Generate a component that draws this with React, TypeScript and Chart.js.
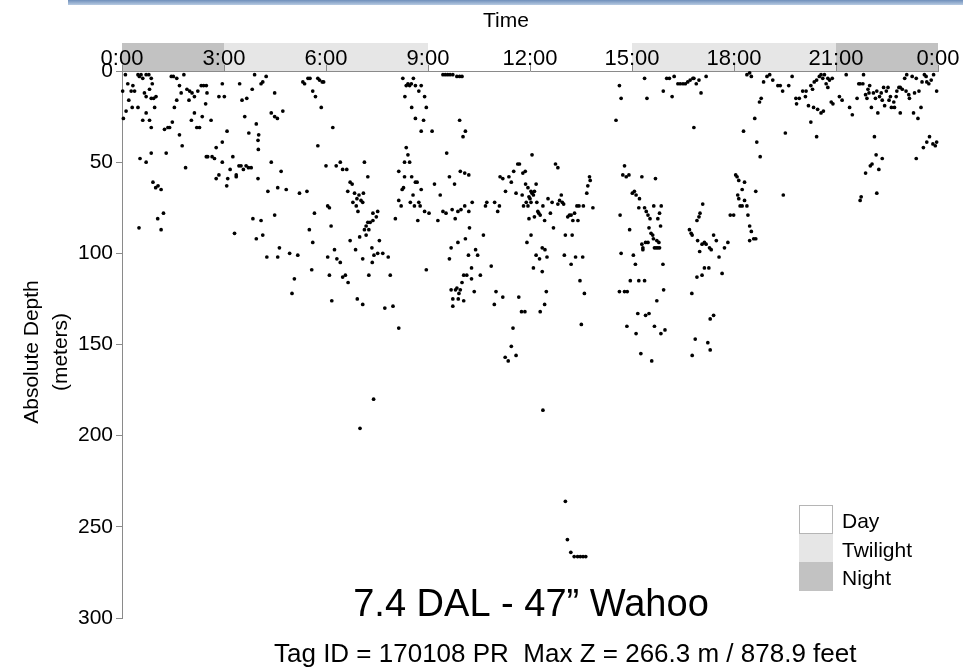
import React, { useEffect, useRef } from 'react';
import { Chart, registerables } from 'chart.js';

Chart.register(...registerables);

const FONT = "'Liberation Sans', Arial, sans-serif";

// ---- axis / text content ----
const hourTicks = [0, 3, 6, 9, 12, 15, 18, 21, 24];
const depthTicks = [0, 50, 100, 150, 200, 250, 300];
const xTitle = 'Time';
const yTitle = ['Absolute Depth', '(meters)'];
const titleText = '7.4 DAL - 47\u201D Wahoo';
const subtitleText = 'Tag ID = 170108 PR  Max Z = 266.3 m / 878.9 feet';

// ---- light periods (hours) ----
const periodStarts = [0, 3, 9, 15, 21];
const periodEnds = [3, 9, 15, 21, 24];
const periodKinds = ['Night', 'Twilight', 'Day', 'Twilight', 'Night'];
const legendLabels = ['Day', 'Twilight', 'Night'];
const legendColors = ['#ffffff', '#e6e6e6', '#c2c2c2'];

// ---- detections: [hour of day, depth m] ----
const det00to03 = [
  [0.10, 2], [0.47, 2], [0.51, 3], [0.56, 2], [0.61, 4], [0.71, 2], [0.79, 2], [0.86, 4], [1.45, 3], [1.51, 3], [1.61, 4], [1.82, 2],
  [0.02, 11], [0.17, 7], [0.32, 8], [0.27, 11], [0.37, 11], [0.66, 12], [0.71, 14], [0.86, 15], [0.93, 15], [1.00, 14], [0.81, 10], [0.89, 7],
  [0.20, 16], [0.30, 20], [0.47, 20], [0.12, 22], [0.71, 23], [0.04, 26], [0.61, 27], [0.81, 27], [0.96, 20], [0.86, 31], [1.25, 32], [1.35, 31],
  [1.40, 31], [1.48, 28], [1.69, 35], [1.77, 41], [1.54, 20], [1.61, 16], [1.69, 8], [1.74, 12], [1.91, 10], [1.99, 11], [2.06, 12], [1.97, 16],
  [2.13, 14], [2.23, 11], [2.33, 8], [2.40, 8], [2.48, 8], [2.46, 18], [2.50, 12], [2.04, 27], [2.13, 23], [2.20, 31], [2.28, 31], [2.36, 25],
  [2.62, 27], [2.85, 14], [2.95, 7], [2.95, 39], [2.77, 42], [1.87, 53], [2.65, 47], [2.72, 48], [2.52, 47], [2.48, 47], [2.77, 59], [2.85, 57],
  [2.95, 50], [0.50, 86], [1.15, 87], [1.05, 81], [1.22, 78], [0.99, 64], [1.06, 63], [1.15, 65], [0.91, 61], [0.86, 45], [0.53, 48], [0.71, 50], [1.30, 45],
];
const det03to06 = [
  [3.01, 14], [3.46, 7], [3.53, 16], [3.67, 15], [3.61, 25], [3.83, 10], [3.95, 29], [4.02, 35], [3.73, 34], [4.49, 12], [4.39, 23], [4.49, 25],
  [4.57, 26], [4.73, 22], [3.09, 33], [3.08, 63], [3.11, 59], [3.18, 54], [3.26, 47], [3.36, 57], [3.36, 58], [3.44, 52], [3.50, 52], [3.57, 54],
  [3.65, 52], [3.72, 53], [3.80, 53], [4.00, 59], [4.01, 43], [4.00, 38], [4.39, 50], [4.68, 55], [4.83, 65], [5.22, 67], [5.44, 66], [5.86, 20],
  [5.76, 41], [5.66, 78], [5.61, 94], [5.51, 87], [4.09, 82], [3.85, 81], [4.49, 79], [4.14, 90], [3.95, 92], [4.29, 66], [4.58, 64], [4.63, 97],
  [3.31, 89], [3.90, 2], [4.14, 6], [4.24, 3], [4.09, 7], [5.32, 6], [5.37, 7], [5.47, 4], [5.53, 4], [5.61, 11], [5.69, 14], [5.76, 4], [5.81, 5],
  [5.89, 6], [5.93, 6], [4.26, 102], [4.58, 102], [4.93, 100], [5.17, 101], [5.07, 114], [5.00, 122], [5.58, 109],
];
const det06to09 = [
  [6.20, 31], [6.00, 52], [6.30, 52], [6.42, 50], [6.49, 54], [6.61, 54], [7.13, 50], [7.23, 58], [6.71, 61], [6.77, 62], [6.64, 66], [6.84, 67],
  [6.91, 70], [6.97, 68], [7.03, 71], [7.10, 67], [7.08, 72], [6.89, 74], [6.79, 72], [6.94, 77], [6.05, 74], [6.10, 75], [8.04, 81], [8.14, 71],
  [8.14, 55], [7.38, 78], [7.52, 77], [7.48, 80], [7.38, 82], [7.23, 83], [7.30, 83], [7.18, 85], [7.13, 87], [7.26, 87], [7.18, 90], [6.99, 91],
  [6.71, 93], [7.57, 93], [7.35, 97], [6.15, 85], [6.05, 102], [6.25, 98], [6.32, 103], [6.42, 105], [6.10, 112], [6.17, 126], [6.49, 113],
  [6.57, 112], [6.65, 116], [6.87, 98], [7.08, 103], [7.26, 112], [7.36, 105], [7.41, 101], [7.52, 100], [7.67, 100], [7.83, 102], [7.89, 112],
  [6.92, 125], [7.08, 128], [7.73, 130], [7.97, 129], [8.14, 141], [8.95, 109], [7.40, 180], [7.00, 196],
  [8.26, 4], [8.36, 8], [8.41, 7], [8.46, 8], [8.51, 7], [8.57, 4], [8.63, 8], [8.73, 11], [8.80, 8], [8.90, 14], [8.32, 14], [8.52, 20],
  [8.95, 20], [8.63, 26], [8.87, 27], [8.80, 33], [8.36, 42], [8.41, 46], [8.31, 50], [8.46, 50], [8.31, 58], [8.52, 58], [8.63, 61], [8.68, 61],
  [8.80, 65], [8.24, 65], [8.28, 64], [8.56, 68], [8.21, 74], [8.48, 72], [8.60, 74], [8.73, 72], [8.77, 74], [8.90, 77], [8.70, 82],
];
const det09to12 = [
  [9.12, 33], [9.93, 27], [10.10, 33], [10.03, 36], [9.44, 2], [9.51, 2], [9.58, 2], [9.65, 2], [9.73, 2], [9.85, 3], [9.93, 3], [10.00, 3],
  [9.03, 78], [9.19, 62], [9.36, 68], [9.55, 45], [9.63, 58], [9.78, 62], [9.95, 55], [10.08, 56], [10.20, 57], [9.44, 77], [9.53, 78], [9.71, 76],
  [9.88, 77], [9.97, 76], [10.08, 74], [10.20, 77], [9.80, 81], [9.29, 82], [10.30, 72], [10.73, 72], [10.96, 72], [10.69, 74], [11.10, 74],
  [11.05, 77], [10.22, 86], [10.10, 92], [10.63, 90], [9.88, 94], [9.68, 97], [11.12, 58], [11.20, 59], [11.38, 58], [11.28, 66], [11.45, 61],
  [11.52, 55], [11.64, 51], [11.69, 51], [11.79, 56], [11.86, 55], [11.59, 67], [11.77, 68], [11.87, 62], [11.94, 64], [11.97, 69], [11.89, 72],
  [11.81, 74], [11.94, 74], [11.97, 81], [11.91, 94], [9.63, 103], [9.68, 120], [9.73, 125], [9.73, 129], [9.81, 120], [9.85, 119], [9.91, 122],
  [9.89, 125], [9.95, 120], [10.00, 116], [10.05, 112], [10.05, 126], [10.14, 112], [10.19, 101], [10.28, 108], [10.28, 114], [10.36, 121],
  [10.40, 98], [10.46, 101], [10.54, 112], [10.86, 107], [10.95, 128], [11.00, 121], [11.20, 124], [11.50, 141], [11.45, 151], [11.27, 157],
  [11.36, 159], [11.59, 156], [11.67, 124], [11.75, 132], [11.85, 132],
];
const det12to15 = [
  [12.03, 66], [12.06, 67], [12.10, 68], [12.13, 66], [12.18, 62], [12.03, 72], [12.00, 70], [12.20, 72], [12.23, 77], [12.26, 78], [12.30, 79],
  [12.38, 74], [12.43, 82], [12.13, 80], [12.06, 46], [12.60, 78], [12.53, 70], [12.69, 86], [12.65, 72], [12.75, 51], [12.82, 53], [12.92, 68],
  [12.87, 71], [12.95, 72], [12.82, 73], [12.99, 73], [13.11, 80], [13.16, 79], [13.21, 79], [13.31, 78], [13.26, 82], [13.44, 74], [13.38, 74],
  [13.41, 82], [13.57, 74], [13.67, 67], [13.70, 63], [13.75, 58], [13.77, 60], [13.85, 75], [13.04, 90], [13.24, 90], [12.03, 90], [12.36, 97],
  [14.63, 8], [14.68, 15], [14.53, 27], [12.10, 108], [12.18, 101], [12.28, 103], [12.36, 110], [12.30, 132], [12.43, 128], [12.48, 121],
  [12.50, 102], [12.44, 98], [12.38, 186], [13.01, 101], [13.21, 106], [13.34, 102], [13.55, 102], [13.47, 115], [13.60, 122], [13.51, 139],
  [14.68, 100], [14.95, 115], [14.63, 121], [14.78, 121], [14.86, 121], [14.85, 140], [14.78, 52], [14.73, 57], [14.83, 58], [14.91, 57],
  [14.65, 79], [14.93, 87], [13.04, 236], [13.10, 257], [13.20, 264], [13.30, 266.3], [13.40, 266.3], [13.48, 266.3], [13.56, 266.3], [13.64, 266.3],
];
const det15to18 = [
  [15.37, 4], [15.44, 15], [15.92, 11], [16.02, 4], [16.10, 4], [16.18, 14], [16.24, 3], [16.35, 7], [15.29, 58], [15.69, 59], [15.01, 67],
  [15.07, 66], [15.12, 68], [15.22, 70], [15.20, 75], [15.37, 75], [15.42, 77], [15.47, 79], [15.53, 81], [15.64, 74], [15.81, 78], [15.84, 85],
  [15.50, 86], [15.56, 89], [15.61, 90], [15.63, 92], [15.73, 93], [15.79, 94], [15.76, 97], [15.66, 97], [15.71, 97], [15.81, 97], [15.47, 94],
  [15.40, 94], [15.29, 95], [15.32, 97], [15.76, 81], [15.86, 74], [15.04, 101], [15.32, 98], [15.10, 106], [15.91, 106], [15.20, 115],
  [15.37, 115], [15.93, 120], [15.73, 126], [15.17, 133], [15.40, 134], [15.50, 133], [15.66, 140], [15.12, 144], [15.85, 144], [15.97, 142],
  [15.26, 155], [15.58, 159], [17.13, 108], [17.26, 108], [17.06, 112], [16.91, 113], [17.65, 111], [16.76, 122], [17.30, 136], [17.40, 134],
  [16.86, 147], [17.23, 149], [17.30, 153], [16.77, 156], [16.42, 7], [16.50, 7], [16.57, 7], [16.64, 6], [16.71, 5], [16.79, 4], [16.82, 4],
  [16.89, 7], [16.97, 5], [17.03, 12], [17.18, 3], [16.82, 31], [17.08, 73], [17.00, 78], [16.91, 82], [16.97, 80], [16.69, 87], [16.74, 89],
  [16.77, 90], [16.93, 93], [17.06, 95], [17.13, 94], [17.18, 95], [17.28, 97], [17.33, 98], [17.40, 90], [17.48, 93], [17.72, 97], [17.82, 94],
  [16.99, 99], [17.56, 102], [17.89, 79], [17.99, 79],
];
const det18to21 = [
  [18.46, 1], [18.38, 2], [18.51, 3], [18.87, 6], [18.97, 3], [19.05, 2], [19.14, 5], [19.29, 8], [19.36, 8], [19.43, 11], [19.61, 8], [19.71, 3],
  [19.82, 15], [19.92, 15], [19.84, 18], [20.02, 11], [20.12, 11], [20.10, 14], [20.26, 8], [20.31, 10], [20.19, 19], [20.34, 20], [20.46, 21],
  [20.56, 23], [20.63, 22], [20.36, 6], [20.43, 5], [20.51, 3], [20.56, 2], [20.61, 4], [20.66, 2], [20.76, 4], [20.81, 5], [20.89, 4], [20.71, 7],
  [20.76, 9], [20.86, 17], [20.91, 18], [20.26, 28], [20.43, 36], [19.51, 34], [18.75, 17], [18.80, 15], [18.61, 26], [18.28, 33], [18.67, 39],
  [18.77, 47], [18.05, 57], [18.09, 58], [18.14, 60], [18.31, 61], [18.24, 65], [18.64, 66], [18.11, 68], [18.14, 70], [18.31, 71], [18.18, 74],
  [18.24, 74], [18.38, 74], [18.41, 79], [18.46, 85], [18.51, 88], [18.58, 92], [18.64, 92], [18.46, 93], [19.45, 68],
];
const det21to24 = [
  [21.10, 14], [21.18, 16], [21.30, 2], [21.40, 20], [21.48, 24], [21.62, 15], [21.67, 7], [21.71, 7], [21.79, 7], [21.81, 2], [21.87, 13],
  [21.91, 15], [21.94, 10], [21.99, 8], [21.97, 12], [22.04, 20], [22.10, 12], [22.16, 15], [22.20, 11], [22.23, 23], [22.28, 14], [22.33, 12],
  [22.36, 16], [22.40, 9], [22.43, 19], [22.48, 11], [22.53, 9], [22.56, 16], [22.60, 14], [22.63, 20], [22.70, 17], [22.72, 20], [22.77, 14],
  [22.79, 11], [22.85, 9], [22.89, 9], [22.89, 23], [22.95, 10], [23.02, 4], [23.06, 11], [23.08, 2], [23.14, 13], [23.16, 15], [23.24, 3],
  [23.28, 23], [23.31, 12], [23.36, 4], [23.41, 26], [23.44, 11], [23.50, 20], [23.53, 6], [23.60, 2], [23.65, 3], [23.67, 6], [23.73, 7],
  [23.80, 5], [23.87, 2], [23.96, 11], [22.13, 36], [22.18, 46], [22.36, 48], [22.06, 51], [22.01, 52], [22.26, 54], [21.87, 56], [21.74, 69],
  [21.71, 71], [22.20, 67], [23.36, 48], [23.57, 42], [23.67, 39], [23.75, 36], [23.85, 40], [23.92, 41], [23.96, 39],
];

const allDetections = [
  ...det00to03, ...det03to06, ...det06to09, ...det09to12,
  ...det12to15, ...det15to18, ...det18to21, ...det21to24,
];

const colorOf = (kind: string) => legendColors[legendLabels.indexOf(kind)];

const backgroundPlugin = {
  id: 'lightBands',
  beforeDraw(chart: any) {
    const { ctx, chartArea, scales } = chart;
    const x = scales.x;
    ctx.save();
    ctx.fillStyle = '#ffffff';
    ctx.fillRect(0, 0, chart.width, chart.height);
    // thin page strip at the very top of the picture
    const g = ctx.createLinearGradient(0, 0, 0, 5);
    g.addColorStop(0, '#6f8fbb');
    g.addColorStop(1, '#b8cbe2');
    ctx.fillStyle = g;
    ctx.fillRect(68, 0, chart.width - 68, 5);
    for (let i = 0; i < periodStarts.length; i++) {
      if (periodKinds[i] === 'Day') continue;
      const x0 = x.getPixelForValue(periodStarts[i]);
      const x1 = x.getPixelForValue(periodEnds[i]);
      ctx.fillStyle = colorOf(periodKinds[i]);
      ctx.fillRect(x0, chartArea.top - 28, x1 - x0, 28);
    }
    ctx.restore();
  },
};

const textPlugin = {
  id: 'texts',
  afterDraw(chart: any) {
    const { ctx } = chart;
    ctx.save();
    ctx.fillStyle = '#000';
    // x title
    ctx.font = `21px ${FONT}`;
    ctx.textAlign = 'center';
    ctx.textBaseline = 'alphabetic';
    ctx.fillText(xTitle, 506, 27);
    // y title
    ctx.save();
    ctx.translate(32, 352);
    ctx.rotate(-Math.PI / 2);
    ctx.textBaseline = 'middle';
    ctx.font = `21px ${FONT}`;
    ctx.fillText(yTitle[0], 0, 0);
    ctx.fillText(yTitle[1], 0, 29);
    ctx.restore();
    // titles
    ctx.textAlign = 'center';
    ctx.font = `38px ${FONT}`;
    ctx.fillText(titleText, 531, 616);
    ctx.textAlign = 'left';
    ctx.font = `26px ${FONT}`;
    ctx.fillText(subtitleText, 274, 662);
    // legend
    const bx = 799, bw = 34;
    const tops = [505, 534, 562];
    const hs = [29, 28, 29];
    ctx.font = `21px ${FONT}`;
    for (let i = 0; i < legendLabels.length; i++) {
      ctx.fillStyle = legendColors[i];
      ctx.fillRect(bx, tops[i], bw, hs[i]);
      if (legendLabels[i] === 'Day') {
        ctx.strokeStyle = '#b5b5b5';
        ctx.lineWidth = 1;
        ctx.strokeRect(bx + 0.5, tops[i] + 0.5, bw - 1, hs[i] - 1);
      }
      ctx.fillStyle = '#000';
      ctx.fillText(legendLabels[i], 842, tops[i] + 23);
    }
    ctx.restore();
  },
};

export default function App() {
  const ref = useRef<HTMLCanvasElement | null>(null);
  useEffect(() => {
    document.body.style.margin = '0';
    const canvas = ref.current;
    if (!canvas) return;
    Chart.defaults.font.family = FONT;
    const chart = new Chart(canvas, {
      type: 'scatter',
      data: {
        datasets: [
          {
            label: 'Depth',
            data: allDetections.map(([h, d]) => ({ x: h, y: d })),
            pointStyle: 'circle',
            pointRadius: 1.85,
            pointBackgroundColor: '#000',
            pointBorderWidth: 0,
            clip: false as any,
          },
        ],
      },
      options: {
        responsive: false,
        animation: false,
        events: [],
        layout: { padding: { left: 0, right: 25, top: 0, bottom: 50 } },
        plugins: { legend: { display: false }, tooltip: { enabled: false }, title: { display: false } },
        scales: {
          x: {
            type: 'linear',
            position: 'top',
            min: 0,
            max: 24,
            afterBuildTicks: (s: any) => { s.ticks = hourTicks.map((v) => ({ value: v })); },
            afterFit: (s: any) => { s.height = 71; },
            ticks: {
              autoSkip: false,
              maxRotation: 0,
              padding: -7,
              color: '#000',
              font: { size: 22, family: FONT },
              callback: (v: any) => `${Number(v) % 24}:00`,
            },
            grid: { drawOnChartArea: false, drawTicks: true, tickLength: 6, color: '#8a8a8a' },
            border: { display: true, color: '#8a8a8a', width: 1 },
          },
          y: {
            type: 'linear',
            reverse: true,
            min: 0,
            max: 300,
            afterBuildTicks: (s: any) => { s.ticks = depthTicks.map((v) => ({ value: v })); },
            afterFit: (s: any) => { s.width = 122; },
            ticks: { padding: 3, color: '#000', font: { size: 21, family: FONT } },
            grid: { drawOnChartArea: false, drawTicks: true, tickLength: 6, color: '#8a8a8a' },
            border: { display: true, color: '#8a8a8a', width: 1 },
          },
        },
      },
      plugins: [backgroundPlugin, textPlugin],
    });
    return () => chart.destroy();
  }, []);
  return (
    <div style={{ position: 'absolute', left: 0, top: 0, width: 963, height: 668 }}>
      <canvas ref={ref} width={963} height={668} style={{ display: 'block', width: 963, height: 668 }} />
    </div>
  );
}
